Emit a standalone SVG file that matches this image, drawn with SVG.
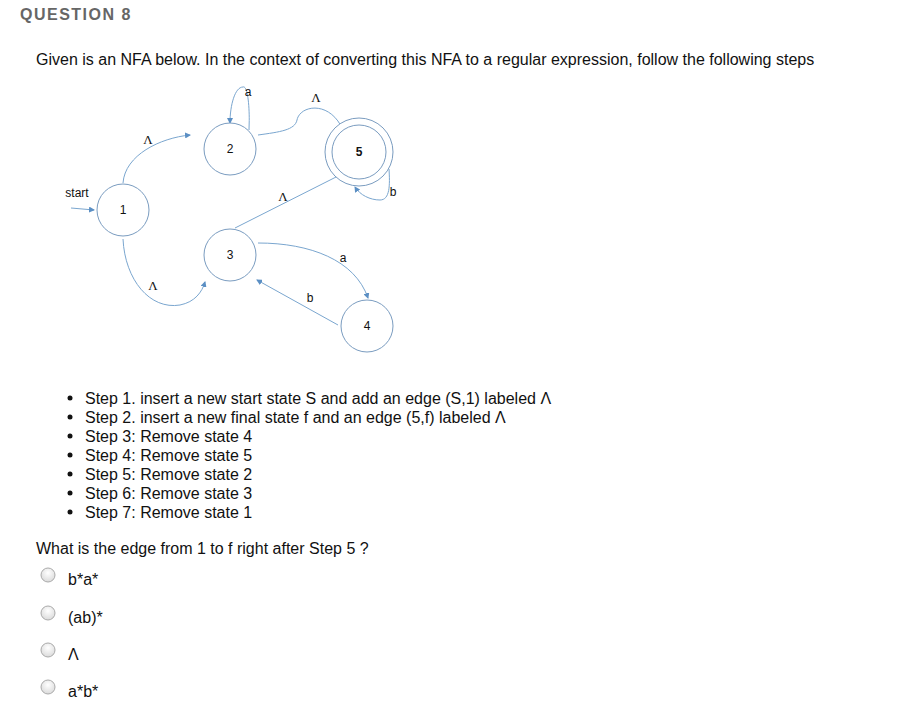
<svg xmlns="http://www.w3.org/2000/svg" width="902" height="712" viewBox="0 0 902 712">
<style>
.t{font-family:"Liberation Sans",Arial,sans-serif;font-size:16px;fill:#111}
.n circle{fill:#fff;stroke:#7a9cc0;stroke-width:1}
.n text{font-family:"Liberation Sans",Arial,sans-serif;font-size:12px;text-anchor:middle;fill:#111}
.e path{fill:none;stroke:#7aa6cf;stroke-width:1;marker-end:url(#ah)}
.l{font-family:"Liberation Sans",Arial,sans-serif;font-size:12px;fill:#111;text-anchor:middle}
.lam{font-family:"Liberation Serif",serif;font-size:13px;fill:#111;text-anchor:middle}
.r{fill:url(#rg);stroke:#aaa}
</style>
<defs>
<marker id="ah" markerWidth="6" markerHeight="6" refX="5" refY="3" orient="auto" markerUnits="userSpaceOnUse"><path d="M0,0 L6,3 L0,6 z" fill="#5b8fc4"/></marker>
<radialGradient id="rg" cx="0.5" cy="0.35" r="0.6"><stop offset="0" stop-color="#fff"/><stop offset="1" stop-color="#ddd"/></radialGradient>
</defs>
<rect width="902" height="712" fill="#fff"/>
<text x="20" y="20" font-family="Liberation Sans,Arial,sans-serif" font-size="16" font-weight="bold" fill="#666" letter-spacing="1.5">QUESTION 8</text>
<text class="t" x="36" y="65">Given is an NFA below. In the context of converting this NFA to a regular expression, follow the following steps</text>
<g id="connectors" class="e">
<path d="M71,208 L94,210"/>
<path d="M123,183 C125,155 160,138 190,135"/>
<path d="M123,239 C125,280 150,310 180,305 C195,302 202,292 205,282"/>
<path d="M249,130 C250,110 248,85 243,87 C235,87 230,105 230,123"/>
<path d="M258,135 C280,132 295,130 297,120 C300,105 330,100 343,130"/>
<path d="M235,228 L342,174"/>
<path d="M389,169 C390,185 390,200 380,200 C370,200 360,195 355,187"/>
<path d="M258,243 C310,243 355,260 368,298"/>
<path d="M338,325 L257,280"/>
</g>
<text class="l" x="77" y="197">start</text>
<text class="lam" x="148" y="144">Λ</text>
<text class="lam" x="153" y="290">Λ</text>
<text class="l" x="248" y="96">a</text>
<text class="lam" x="316" y="102">Λ</text>
<text class="lam" x="283" y="201">Λ</text>
<text class="l" x="393" y="196">b</text>
<text class="l" x="343" y="262">a</text>
<text class="l" x="310" y="302">b</text>
<g id="n1" class="n"><circle cx="123" cy="210" r="26"/><text x="123" y="214">1</text></g>
<g id="n2" class="n"><circle cx="230" cy="149" r="26"/><text x="230" y="153">2</text></g>
<g id="n5" class="n"><circle cx="359" cy="152" r="34"/><circle cx="359" cy="152" r="27"/><text x="359" y="156" font-weight="bold">5</text></g>
<g id="n3" class="n"><circle cx="230" cy="255" r="26"/><text x="230" y="259">3</text></g>
<g id="n4" class="n"><circle cx="367" cy="326" r="26"/><text x="367" y="330">4</text></g>
<g class="t">
<circle cx="70" cy="398" r="2.5" fill="#111"/><text class="t" x="85" y="404">Step 1. insert a new start state S and add an edge (S,1) labeled Λ</text>
<circle cx="70" cy="417" r="2.5" fill="#111"/><text class="t" x="85" y="423">Step 2. insert a new final state f and an edge (5,f) labeled Λ</text>
<circle cx="70" cy="436" r="2.5" fill="#111"/><text class="t" x="85" y="442">Step 3: Remove state 4</text>
<circle cx="70" cy="455" r="2.5" fill="#111"/><text class="t" x="85" y="461">Step 4: Remove state 5</text>
<circle cx="70" cy="474" r="2.5" fill="#111"/><text class="t" x="85" y="480">Step 5: Remove state 2</text>
<circle cx="70" cy="493" r="2.5" fill="#111"/><text class="t" x="85" y="499">Step 6: Remove state 3</text>
<circle cx="70" cy="512" r="2.5" fill="#111"/><text class="t" x="85" y="518">Step 7: Remove state 1</text>
</g>
<text class="t" x="36" y="554">What is the edge from 1 to f right after Step 5 ?</text>
<circle class="r" cx="48" cy="575" r="7"/><text class="t" x="68" y="585">b*a*</text>
<circle class="r" cx="48" cy="613" r="7"/><text class="t" x="68" y="623">(ab)*</text>
<circle class="r" cx="48" cy="650" r="7"/><text class="t" x="68" y="660">Λ</text>
<circle class="r" cx="48" cy="687" r="7"/><text class="t" x="68" y="697">a*b*</text>
</svg>
